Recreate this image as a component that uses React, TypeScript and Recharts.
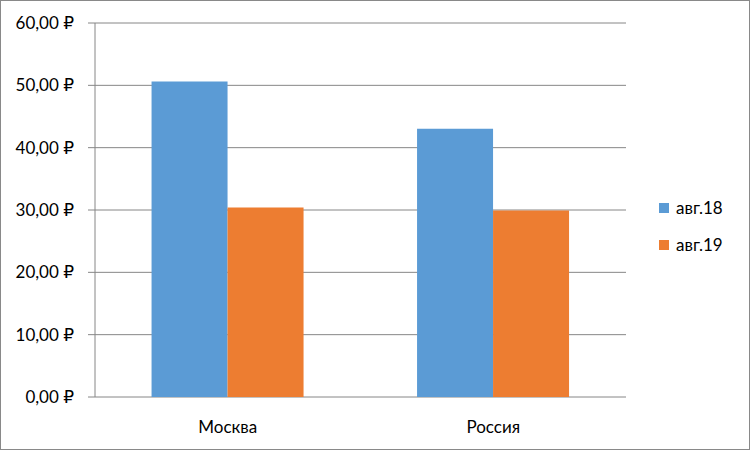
import { BarChart, Bar, XAxis, YAxis, CartesianGrid } from "recharts";

const categories = ["Москва", "Россия"];
const aug18 = [50.6, 43.05];
const aug19 = [30.4, 29.9];
const yTicks = [0, 10, 20, 30, 40, 50, 60];
const seriesNames = ["авг.18", "авг.19"];
const seriesColors = ["#5B9BD5", "#ED7D31"];

const data = categories.map((name, i) => ({ name, idx: i + 0.5, a18: aug18[i], a19: aug19[i] }));
const boundaries = categories.map((_, i) => i).concat(categories.length);

const GRID = "#868686";
const FONT = "Lato, 'Open Sans', 'DejaVu Sans', sans-serif";

function fmtRub(v: number) {
  return `${v.toFixed(2).replace(".", ",")} ₽`;
}

function SideLegend() {
  return (
    <div
      style={{
        position: "absolute",
        left: 658,
        top: 196,
        display: "flex",
        flexDirection: "column",
        gap: 16,
      }}
    >
      {seriesNames.map((name, i) => (
        <div key={name} style={{ display: "flex", alignItems: "center", gap: 7 }}>
          <div style={{ width: 10, height: 10, background: seriesColors[i] }} />
          <span style={{ color: "#000", fontSize: 17, fontFamily: FONT, lineHeight: "21px" }}>{name}</span>
        </div>
      ))}
    </div>
  );
}

export default function App() {
  return (
    <div
      style={{
        position: "fixed",
        left: 0,
        top: 0,
        width: 750,
        height: 450,
        boxSizing: "border-box",
        border: "1px solid #898989",
        background: "#fff",
        overflow: "hidden",
      }}
    >
      <div style={{ position: "absolute", left: -1, top: -1 }}>
        <BarChart
          width={750}
          height={450}
          data={data}
          margin={{ top: 23, right: 124, left: 0, bottom: 23 }}
          barCategoryGap="21.3%"
          barGap={0}
        >
          <CartesianGrid vertical={false} stroke={GRID} strokeWidth={1} />
          <XAxis
            xAxisId="bounds"
            type="number"
            dataKey="idx"
            domain={[0, categories.length]}
            ticks={boundaries}
            tick={false}
            tickSize={8}
            height={0}
            axisLine={{ stroke: GRID }}
            tickLine={{ stroke: GRID }}
          />
          <XAxis
            dataKey="name"
            height={30}
            axisLine={false}
            tickLine={false}
            tickMargin={18}
            tick={{ fill: "#000", fontSize: 17, fontFamily: FONT }}
          />
          <YAxis
            domain={[0, 60]}
            ticks={yTicks}
            width={95}
            tickFormatter={fmtRub}
            axisLine={{ stroke: GRID }}
            tickLine={{ stroke: GRID }}
            tickSize={7}
            tickMargin={14}
            tick={{ fill: "#000", fontSize: 17, fontFamily: FONT }}
            interval={0}
          />
          {seriesNames.map((name, i) => (
            <Bar
              key={name}
              dataKey={i === 0 ? "a18" : "a19"}
              name={name}
              fill={seriesColors[i]}
              isAnimationActive={false}
            />
          ))}
        </BarChart>
      </div>
      <SideLegend />
    </div>
  );
}
